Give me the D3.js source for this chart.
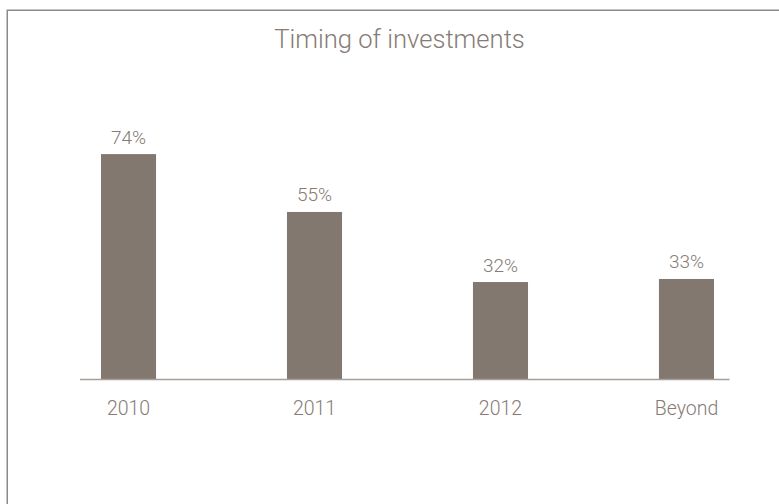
<!DOCTYPE html>
<html>
<head>
<meta charset="utf-8">
<script src="https://cdn.jsdelivr.net/npm/d3@7"></script>
<style>
  html, body { margin: 0; padding: 0; background: #ffffff; }
  svg { display: block; }
  text { font-family: Roboto, "Liberation Sans", Arial, sans-serif; font-weight: 300; }
</style>
</head>
<body>
<div id="chart"></div>
<script>
// Share of investments by timing
const categories = ["2010", "2011", "2012", "Beyond"];
const values = [74, 55, 32, 33];
const valueLabels = ["74%", "55%", "32%", "33%"];
const title = "Timing of investments";

const width = 779, height = 504;
const barColor = "#837870";
const textColor = "#867b75";
const lineColor = "#a89e98";
const frameColor = "#8f8985";

const svg = d3.select("#chart").append("svg")
  .attr("width", width)
  .attr("height", height);

// Frame (top and left edges visible within the canvas)
svg.append("rect")
  .attr("x", 7.25).attr("y", 10.25)
  .attr("width", 900).attr("height", 700)
  .attr("fill", "none")
  .attr("stroke", frameColor)
  .attr("stroke-width", 1.5);

// Title
svg.append("text")
  .attr("x", 399.5).attr("y", 47.5)
  .attr("text-anchor", "middle")
  .attr("font-size", 25.6)
  .attr("fill", textColor)
  .text(title);

const x = d3.scaleBand()
  .domain(categories)
  .range([101, 714])
  .paddingInner(0.704)
  .paddingOuter(0);

const baseY = 379.5;
const y = d3.scaleLinear()
  .domain([0, 100])
  .range([baseY, baseY - 304.6]);

// Bars
svg.append("g").selectAll("rect")
  .data(categories)
  .join("rect")
  .attr("x", d => x(d))
  .attr("y", (d, i) => y(values[i]))
  .attr("width", x.bandwidth())
  .attr("height", (d, i) => y(0) - y(values[i]))
  .attr("fill", barColor);

// Value labels above bars
svg.append("g").selectAll("text")
  .data(categories)
  .join("text")
  .attr("x", d => x(d) + x.bandwidth() / 2)
  .attr("y", (d, i) => y(values[i]) - 10.5)
  .attr("text-anchor", "middle")
  .attr("font-size", 19)
  .attr("fill", textColor)
  .text((d, i) => valueLabels[i]);

// Baseline
svg.append("line")
  .attr("x1", 80).attr("x2", 729.5)
  .attr("y1", baseY).attr("y2", baseY)
  .attr("stroke", lineColor)
  .attr("stroke-width", 1.5);

// Category axis labels
const axis = svg.append("g")
  .attr("transform", `translate(0,${baseY})`)
  .call(d3.axisBottom(x).tickSize(0).tickPadding(22));
axis.select(".domain").remove();
axis.selectAll("text")
  .attr("font-size", 19.5)
  .attr("fill", textColor)
  .attr("font-family", "Roboto, \"Liberation Sans\", Arial, sans-serif")
  .attr("font-weight", 300);
</script>
</body>
</html>
